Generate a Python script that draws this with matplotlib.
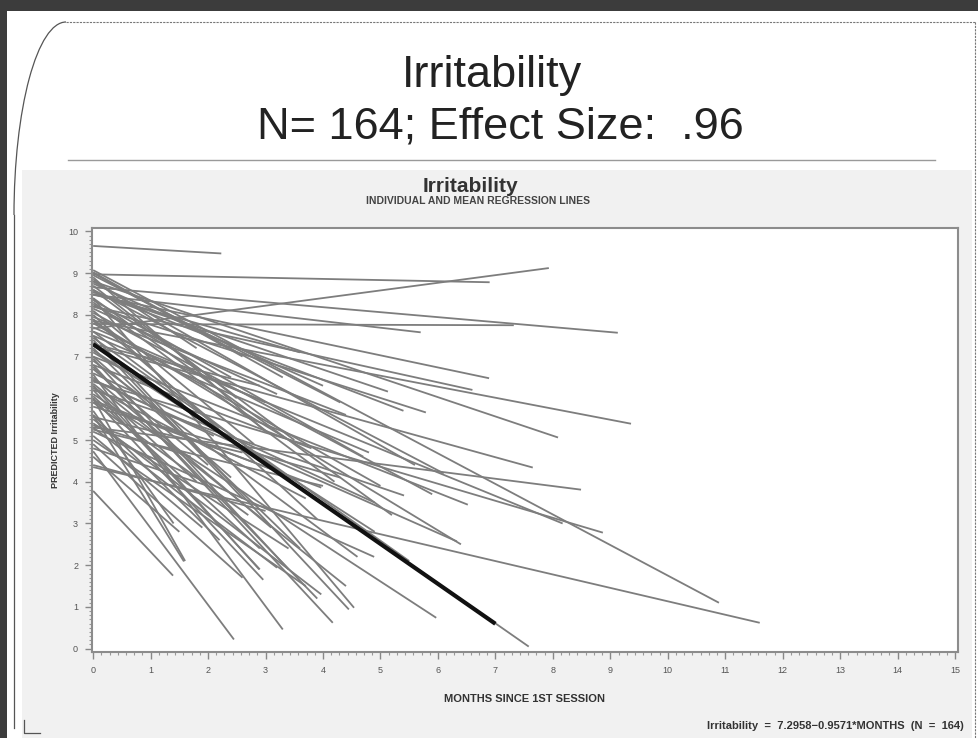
import matplotlib
matplotlib.use("Agg")
import matplotlib.pyplot as plt
from matplotlib.patches import Rectangle, Arc
from matplotlib.ticker import MultipleLocator

plt.rcParams['font.family'] = ['Liberation Sans', 'DejaVu Sans']

# individual regression lines: value at month 0, last month, value at last month
start_vals = [9.65, 8.97, 7.67, 7.78, 8.66, 8.48, 8.48, 7.86, 8.2, 7.25,
              5.3, 7.6, 6.4, 9.07, 4.35, 7.33, 6.43, 6.1, 5.2, 8.4,
              7.5, 6.8, 6.57, 4.73, 3.78, 5.5, 8.9, 8.7, 8.6, 8.3,
              8.1, 8.0, 7.9, 7.8, 7.6, 7.4, 7.2, 7.0, 6.9, 6.7,
              6.5, 6.3, 6.2, 6.0, 5.9, 5.7, 5.6, 5.4, 5.1, 4.9,
              4.6, 4.4, 8.85, 8.75, 8.55, 8.35, 8.15, 7.95, 7.7, 7.5,
              7.1, 6.8, 6.6, 6.45, 6.25, 5.95, 5.8, 5.55, 5.35, 5.25,
              9.0, 9.02, 8.95, 8.8, 8.6, 8.4, 8.25, 8.05, 7.85, 7.45,
              7.15, 6.95, 6.75, 6.35, 6.05, 5.0, 4.8, 8.5, 8.2, 7.3,
              8.55, 8.8, 7.0, 6.2, 5.9, 6.0, 5.3, 6.3, 5.6]
end_months = [2.23, 6.9, 7.93, 7.32, 9.13, 5.7, 6.89, 9.36, 5.79, 7.65,
              8.49, 8.17, 8.87, 10.89, 11.6, 7.58, 6.33, 5.97, 4.89, 4.54,
              4.45, 4.17, 3.3, 2.45, 1.39, 3.97, 3.0, 2.5, 3.5, 4.2,
              2.8, 3.9, 2.2, 5.0, 3.3, 2.6, 3.6, 2.4, 4.6, 2.0,
              3.1, 1.8, 2.9, 1.6, 2.7, 1.4, 2.2, 3.4, 1.9, 2.6,
              1.5, 3.0, 1.8, 4.0, 5.4, 2.4, 3.2, 4.4, 3.0, 4.8,
              1.6, 3.8, 4.9, 2.1, 3.7, 3.1, 4.3, 2.6, 1.7, 4.0,
              2.6, 3.3, 4.3, 5.6, 6.1, 5.2, 4.7, 5.9, 6.4, 5.5,
              4.9, 3.4, 3.9, 4.4, 2.9, 3.7, 2.0, 3.6, 6.6, 2.9,
              5.13, 8.09, 6.52, 5.41, 3.97, 2.96, 3.2, 2.89, 1.58]
end_vals = [9.47, 8.78, 9.12, 7.75, 7.57, 7.58, 6.48, 5.39, 5.66, 4.34,
            3.81, 3.0, 2.78, 1.1, 0.62, 0.05, 2.57, 0.74, 2.2, 0.98,
            0.94, 0.62, 0.46, 0.22, 1.75, 1.3, 5.2, 6.0, 5.0, 4.0,
            4.9, 3.1, 5.3, 3.9, 4.2, 3.6, 2.4, 4.1, 2.2, 4.4,
            2.9, 4.0, 1.9, 2.1, 3.2, 3.0, 2.6, 2.4, 2.9, 1.7,
            2.8, 3.3, 7.2, 6.3, 5.7, 6.5, 6.1, 5.6, 5.9, 4.7,
            5.8, 4.8, 3.5, 5.1, 3.6, 4.3, 4.1, 4.7, 4.6, 3.9,
            7.0, 6.5, 5.9, 4.4, 4.2, 3.2, 4.6, 3.7, 2.5, 2.1,
            2.8, 1.9, 1.2, 1.5, 2.4, 1.5, 3.9, 7.1, 6.2, 6.3,
            6.16, 5.06, 3.45, 3.67, 3.86, 1.65, 1.94, 1.9, 2.09]

# mean regression line
mean_intercept = 7.2958
mean_slope = -0.9571
mean_last_month = 7.0

W, H = 979, 738
fig = plt.figure(figsize=(W / 100, H / 100), dpi=100)
fig.patch.set_facecolor('white')

# slide decoration layer in pixel coordinates
bg = fig.add_axes([0, 0, 1, 1], zorder=0)
bg.set_xlim(0, W)
bg.set_ylim(H, 0)
bg.axis('off')
bg.add_patch(Rectangle((0, 0), W, 11, color='#3c3c3c', lw=0))
bg.add_patch(Rectangle((0, 0), 7, H, color='#3c3c3c', lw=0))
bg.add_patch(Rectangle((22, 170), 950, 568, color='#f1f1f1', lw=0))
bg.plot([66, 975], [22, 22], color='#777777', lw=0.8, ls=(0, (2, 1)))
bg.plot([975, 975], [22, 738], color='#777777', lw=0.8, ls=(0, (2, 1)))
bg.plot([14, 14], [215, 728], color='#555555', lw=0.9)
bg.add_patch(Arc((66, 215), 104, 386, theta1=180, theta2=270, color='#555555', lw=0.9))
bg.plot([24, 24, 40], [720, 733, 733], color='#555555', lw=0.9)
bg.plot([68, 935], [160, 160], color='#9a9a9a', lw=1.0)

bg.text(492, 76, 'Irritability', fontsize=32.5, ha='center', va='center', color='#222222')
bg.text(500, 127, 'N= 164; Effect Size:  .96', fontsize=32.5, ha='center', va='center', color='#222222')
bg.text(470, 187, 'Irritability', fontsize=15, fontweight='bold', ha='center', va='center', color='#333333')
bg.text(478, 201, 'INDIVIDUAL AND MEAN REGRESSION LINES', fontsize=7.5, fontweight='bold',
        ha='center', va='center', color='#444444')
bg.text(964, 726, 'Irritability  =  7.2958\u22120.9571*MONTHS  (N  =  164)', fontsize=8,
        fontweight='bold', ha='right', va='center', color='#333333')

# chart axes
left, right, top, bottom = 92, 958, 228, 652
ax = fig.add_axes([left / W, (H - bottom) / H, (right - left) / W, (bottom - top) / H], zorder=1)
ax.set_facecolor('white')

for y0, xe, ye in zip(start_vals, end_months, end_vals):
    ax.plot([0, xe], [y0, ye], color='#7d7d7d', lw=1.3, solid_capstyle='butt')

ax.plot([0, mean_last_month], [mean_intercept, mean_intercept + mean_slope * mean_last_month],
        color='#111111', lw=3.0, solid_capstyle='butt')

ax.set_xlim(-0.02, 15.05)
ax.set_ylim(-0.08, 10.08)
ax.xaxis.set_major_locator(MultipleLocator(1))
ax.xaxis.set_minor_locator(MultipleLocator(1 / 7))
ax.yaxis.set_major_locator(MultipleLocator(1))
ax.yaxis.set_minor_locator(MultipleLocator(0.1))
ax.tick_params(which='major', length=5, width=1, color='#888888', labelsize=6.5,
               labelcolor='#555555', pad=5)
ax.tick_params(which='minor', length=2.5, width=0.8, color='#999999')
for s in ax.spines.values():
    s.set_color('#8c8c8c')
    s.set_linewidth(1.5)

ax.set_xlabel('MONTHS SINCE 1ST SESSION', fontsize=8, fontweight='bold', color='#333333', labelpad=14)
ax.set_ylabel('PREDICTED Irritability', fontsize=6.5, fontweight='bold', color='#333333', labelpad=6)

fig.savefig('out.png', dpi=100)
